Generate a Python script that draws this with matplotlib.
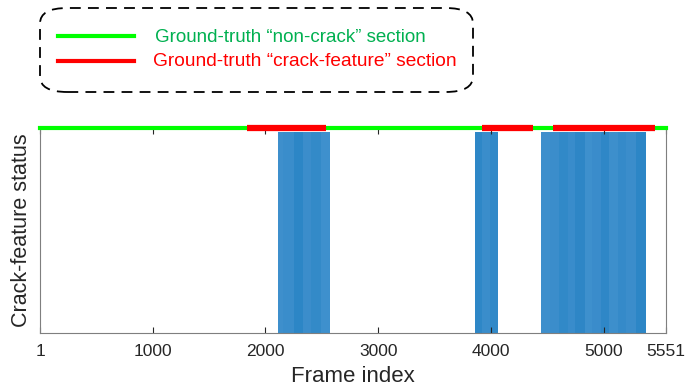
import matplotlib.pyplot as plt
from matplotlib.patches import FancyBboxPatch
from matplotlib.lines import Line2D

plt.rcParams['font.family'] = ['Liberation Sans', 'DejaVu Sans']

# frame range
n_frames = 5551
x_ticks = [1, 1000, 2000, 3000, 4000, 5000, 5551]

# ground-truth crack sections (frame start, frame end)
gt_crack_start = [1833, 3917, 4548]
gt_crack_end = [2534, 4370, 5453]

# detected crack-feature frames (start, end, shade)
det_start = [2108, 2160, 2250, 2330, 2400, 2490, 3856, 3920, 3990,
             4441, 4520, 4600, 4680, 4750, 4830, 4900, 4980, 5050, 5130, 5200, 5290]
det_end = [2160, 2250, 2330, 2400, 2490, 2569, 3920, 3990, 4060,
           4520, 4600, 4680, 4750, 4830, 4900, 4980, 5050, 5130, 5200, 5290, 5372]
det_color = ['#3e8fcc', '#3a8dcb', '#2c86c6', '#3b8dcb', '#338ac8', '#3e90cd',
             '#2e87c7', '#3a8dcb', '#3189c8',
             '#3e8fcc', '#3b8dcb', '#3189c8', '#398ccb', '#2e86c6', '#3e90cd',
             '#3a8ccb', '#2f87c7', '#3d8fcc', '#358ac9', '#3b8dcb', '#2c86c6']

fig = plt.figure(figsize=(6.85, 3.87), dpi=100)
ax = fig.add_axes([0.0584, 0.1395, 0.9136, 0.5295])

for s, e, c in zip(det_start, det_end, det_color):
    ax.bar(s, 1, width=e - s, align='edge', color=c, edgecolor='none')

top = 1.02
ax.plot([1, n_frames], [top, top], color='#00ff00', lw=3, clip_on=False, zorder=3)
for s, e in zip(gt_crack_start, gt_crack_end):
    ax.plot([s, e], [top, top], color='#ff0000', lw=4.5, clip_on=False, zorder=4,
            solid_capstyle='butt')

ax.set_xlim(1, n_frames)
ax.set_ylim(0, top)
ax.set_xticks(x_ticks)
ax.set_xticklabels([str(t) for t in x_ticks], fontsize=12.5, color='#262626')
ax.set_yticks([])
ax.tick_params(axis='x', direction='in', top=True, length=4, color='#262626', pad=8)
for sp in ax.spines.values():
    sp.set_color('#7f7f7f')
ax.set_xlabel('Frame index', fontsize=16, color='#262626', labelpad=5)
ax.set_ylabel('Crack-feature status', fontsize=15.5, color='#262626', labelpad=6)

# legend box
W, H = 685, 387
box = FancyBboxPatch((40 / W, 1 - 92 / H), 433 / W, 84 / H,
                     boxstyle='round,pad=0,rounding_size=0.04',
                     transform=fig.transFigure, fill=False,
                     edgecolor='black', lw=1.3, linestyle=(0, (6, 4)))
fig.patches.append(box)
fig.lines.append(Line2D([58 / W, 134 / W], [1 - 36 / H, 1 - 36 / H],
                        transform=fig.transFigure, color='#00ff00', lw=3))
fig.lines.append(Line2D([58 / W, 134 / W], [1 - 61 / H, 1 - 61 / H],
                        transform=fig.transFigure, color='#ff0000', lw=3))
fig.text(155 / W, 1 - 37 / H, 'Ground-truth \u201cnon-crack\u201d section',
         color='#00b050', fontsize=13.5, va='center')
fig.text(153 / W, 1 - 61 / H, 'Ground-truth \u201ccrack-feature\u201d section',
         color='#ff0000', fontsize=13.8, va='center')

fig.savefig('out.png', dpi=100)
